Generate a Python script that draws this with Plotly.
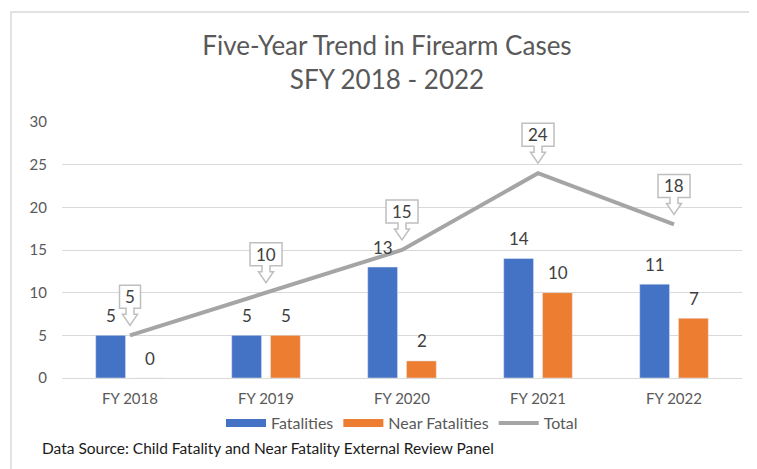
import plotly.graph_objects as go

# data
years = ["FY 2018", "FY 2019", "FY 2020", "FY 2021", "FY 2022"]
fatalities = [5, 5, 13, 14, 11]
near_fatalities = [0, 5, 2, 10, 7]
total = [5, 10, 15, 24, 18]

blue = "#4472C4"
orange = "#ED7D31"
grey = "#A5A5A5"
txt = "#595959"
font = "Lato"

# page body has an 8px margin, so the figure is laid out 8px smaller
W, H = 749, 461
L, T = 54, 114

fig = go.Figure()
fig.add_bar(x=years, y=fatalities, marker_color=blue, name="Fatalities", showlegend=False)
fig.add_bar(x=years, y=near_fatalities, marker_color=orange, name="Near Fatalities", showlegend=False)
fig.add_scatter(x=years, y=total, mode="lines", line=dict(color=grey, width=4),
                name="Total", showlegend=False)

# legend entries (wide swatches like the excel legend)
for nm, col, w in [("Fatalities", blue, 8), ("Near Fatalities", orange, 8), ("Total", grey, 4)]:
    fig.add_scatter(x=[None], y=[None], mode="lines", line=dict(color=col, width=w), name=nm)

# bar value labels
for vals, dx in [(fatalities, -19.5), (near_fatalities, 19.5)]:
    for c, v in zip(years, vals):
        fig.add_annotation(x=c, y=v, text=str(v), showarrow=False, xshift=dx, yshift=20,
                           font=dict(family=font, size=17, color="#404040"))

# callouts for the total (box + hollow down arrow, sized in pixels)
for c, v in zip(years, total):
    hw = 10.5 if v < 10 else 16
    path = (f"M{-hw},50 L{hw},50 L{hw},27 L4,27 L4,21 L7.5,21 L0,10 "
            f"L-7.5,21 L-4,21 L-4,27 L{-hw},27 Z")
    fig.add_shape(type="path", xref="x", yref="y", xsizemode="pixel", ysizemode="pixel",
                  xanchor=c, yanchor=v, path=path, fillcolor="white",
                  line=dict(color="#BFBFBF", width=1.5), layer="above")
    fig.add_annotation(x=c, y=v, text=str(v), showarrow=False, yshift=38.5,
                       font=dict(family=font, size=17, color="#404040"))

fig.add_annotation(xref="paper", yref="paper", x=(40 - 62) / 680, y=(378 - 448) / 256,
                   xanchor="left", yanchor="middle", showarrow=False,
                   text="Data Source: Child Fatality and Near Fatality External Review Panel",
                   font=dict(family=font, size=15.5, color="#1a1a1a"))

# chart frame
fig.add_shape(type="rect", xref="paper", yref="paper",
              x0=(11 - 62) / 680, x1=(780 - 62) / 680,
              y0=(378 - 490) / 256, y1=(378 - 12) / 256,
              line=dict(color="#D9D9D9", width=1.5), layer="below")

fig.update_layout(
    width=W, height=H,
    margin=dict(l=L, r=W - L - 680, t=T, b=H - T - 256),
    paper_bgcolor="white", plot_bgcolor="white",
    barmode="group", bargap=0.43, bargroupgap=0.23,
    title=dict(text="Five-Year Trend in Firearm Cases<br>SFY 2018 - 2022",
               x=379 / W, xanchor="center", xref="container",
               y=1 - 47 / H, yanchor="middle", yref="container",
               font=dict(family=font, size=26, color=txt)),
    legend=dict(orientation="h", x=0.5, xanchor="center", y=-45 / 256, yanchor="middle",
                itemwidth=40,
                font=dict(family=font, size=16, color=txt), bgcolor="rgba(0,0,0,0)"),
    font=dict(family=font, color=txt),
)
fig.update_xaxes(showgrid=False, showline=False, ticks="", ticklabelstandoff=10,
                 tickfont=dict(family=font, size=15, color=txt))
fig.update_yaxes(range=[0, 30], dtick=5, showgrid=True, gridcolor="#D9D9D9", gridwidth=1,
                 zeroline=True, zerolinecolor="#D9D9D9", zerolinewidth=1, showline=False,
                 ticks="", ticklabelstandoff=14,
                 tickfont=dict(family=font, size=15, color=txt))

fig.write_html("out.html")
